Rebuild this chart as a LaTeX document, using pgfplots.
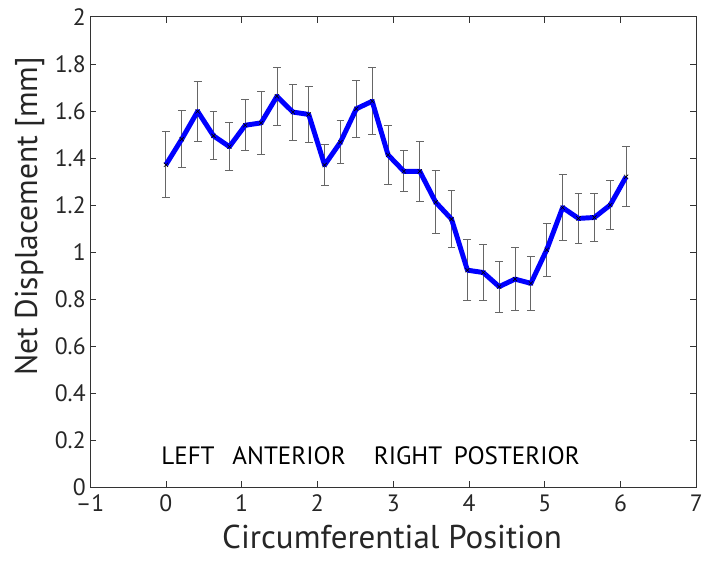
\documentclass[border=0pt]{standalone}
\usepackage{pgfplots}
\pgfplotsset{compat=1.18}
\usepackage{pgfplotstable}
\usepackage{fontspec}
\setmainfont{PT Sans}
\pgfplotstableread{
x y e
0.0000 1.371 0.140
0.2094 1.480 0.120
0.4189 1.598 0.128
0.6283 1.494 0.102
0.8378 1.448 0.101
1.0472 1.539 0.109
1.2566 1.549 0.132
1.4661 1.662 0.123
1.6755 1.595 0.119
1.8850 1.585 0.118
2.0944 1.370 0.086
2.3038 1.467 0.091
2.5133 1.609 0.121
2.7227 1.641 0.143
2.9322 1.413 0.126
3.1416 1.343 0.087
3.3510 1.343 0.126
3.5605 1.212 0.134
3.7699 1.140 0.121
3.9794 0.923 0.130
4.1888 0.913 0.119
4.3982 0.853 0.109
4.6077 0.885 0.135
4.8171 0.867 0.114
5.0265 1.010 0.113
5.2360 1.189 0.141
5.4454 1.143 0.105
5.6549 1.147 0.102
5.8643 1.200 0.105
6.0737 1.320 0.128
}\datatable
\begin{document}
\begin{tikzpicture}
\begin{axis}[
  scale only axis,
  width=613.2bp, height=476bp,
  xmin=-1, xmax=7, ymin=0, ymax=2,
  xtick={-1,0,1,2,3,4,5,6,7},
  xticklabels={\textendash1,0,1,2,3,4,5,6,7},
  ytick={0,0.2,0.4,0.6,0.8,1,1.2,1.4,1.6,1.8,2},
  yticklabels={0,0.2,0.4,0.6,0.8,1,1.2,1.4,1.6,1.8,2},
  tick align=inside,
  major tick length=6bp,
  tick style={black!80, line width=0.6bp},
  axis line style={black!80, line width=0.8bp},
  ticklabel style={font=\fontsize{24}{28}\selectfont, text=black!85},
  xticklabel style={yshift=-4bp},
  yticklabel style={xshift=-1bp},
  xlabel={Circumferential Position},
  ylabel={Net Displacement [mm]},
  xlabel style={font=\fontsize{33.5}{38}\selectfont, text=black!85, at={(rel axis cs:0.498,-0.105)}, anchor=center},
  ylabel style={font=\fontsize{32}{36}\selectfont, text=black!85, at={(rel axis cs:-0.1,0.576)}, anchor=center},
  clip=false,
]
\path (rel axis cs:-0.1487,-0.1597) rectangle (rel axis cs:1.0026,1.0357);
\addplot[draw=none, mark=none, forget plot,
  error bars/.cd, y dir=both, y explicit,
  error bar style={draw=black!60, line width=0.9bp},
  error mark options={rotate=90, mark size=4bp, draw=black!60, line width=0.9bp}]
  table[x=x, y=y, y error=e] {\datatable};
\addplot[blue, line width=5bp, mark=none, line join=round] table[x=x, y=y] {\datatable};
\addplot[draw=none, mark=x, mark size=3bp, mark options={black, line width=0.6bp}] table[x=x, y=y] {\datatable};
\node[anchor=base west, font=\fontsize{25.5}{28}\selectfont, inner sep=0pt] at (axis cs:-0.063,0.097) {LEFT};
\node[anchor=base west, font=\fontsize{25.5}{28}\selectfont, inner sep=0pt] at (axis cs:0.876,0.097) {ANTERIOR};
\node[anchor=base west, font=\fontsize{25.5}{28}\selectfont, inner sep=0pt] at (axis cs:2.742,0.097) {RIGHT};
\node[anchor=base west, font=\fontsize{25.5}{28}\selectfont, inner sep=0pt] at (axis cs:3.798,0.097) {POSTERIOR};
\end{axis}
\end{tikzpicture}
\end{document}
